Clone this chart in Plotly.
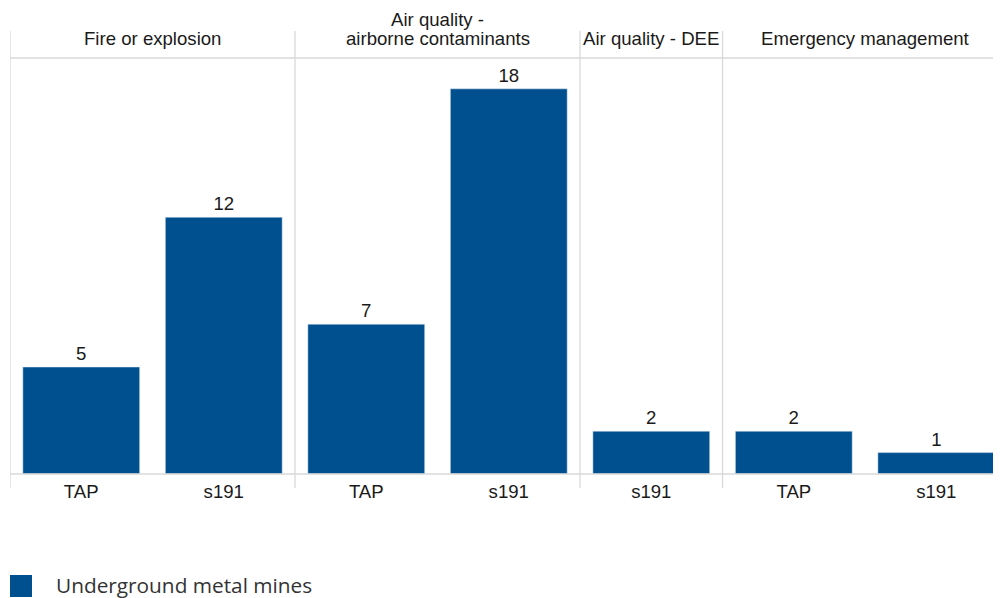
import plotly.graph_objects as go

groups = ["Fire or explosion", "Air quality -<br>airborne contaminants", "Air quality - DEE", "Emergency management"]
group_members = [["TAP", "s191"], ["TAP", "s191"], ["s191"], ["TAP", "s191"]]
values = [5, 12, 7, 18, 2, 2, 1]
series_name = "Underground metal mines"

bar_color = "#00508f"
grid_color = "#d9d9d9"
text_color = "#1a1a1a"
font_main = "Liberation Sans, Arial, sans-serif"
fsize = 18.6

labels = [m for g in group_members for m in g]
xs = list(range(len(labels)))

fig = go.Figure()
fig.add_trace(go.Bar(
    x=xs, y=values, name=series_name, marker_color=bar_color, width=0.82,
    text=[str(v) for v in values], textposition="outside", cliponaxis=False,
    textfont=dict(family=font_main, size=fsize, color=text_color),
    showlegend=False,
))

plot_h = 416.0
plot_w = 991.0
shapes = []
annotations = []
start = 0
bounds = [-0.5]
for g, mem in zip(groups, group_members):
    end = start + len(mem)
    center = (start + end - 1) / 2
    lines = g.split("<br>")
    for i, line in enumerate(reversed(lines)):
        annotations.append(dict(x=center, y=1 + (19.5 + 19 * i) / plot_h, xref="x", yref="paper",
                                text=line, showarrow=False, yanchor="middle",
                                font=dict(family=font_main, size=fsize, color=text_color)))
    bounds.append(end - 0.5)
    start = end
for b in bounds[:-1]:
    shapes.append(dict(type="line", xref="x", yref="paper", x0=b, x1=b, y0=-14 / plot_h, y1=1 + 27 / plot_h,
                       line=dict(color=grid_color, width=1.3)))
shapes.append(dict(type="line", xref="paper", yref="paper", x0=0, x1=1, y0=1, y1=1,
                   line=dict(color=grid_color, width=1.5)))
shapes.append(dict(type="line", xref="paper", yref="paper", x0=0, x1=1, y0=0, y1=0,
                   line=dict(color=grid_color, width=1.5)))
# manual legend
shapes.append(dict(type="rect", xref="paper", yref="paper", x0=0, x1=22 / plot_w,
                   y0=-101 / plot_h, y1=-123 / plot_h,
                   fillcolor=bar_color, line=dict(width=0)))
annotations.append(dict(x=44 / plot_w, y=-111 / plot_h, xref="paper", yref="paper", text=series_name,
                        showarrow=False, xanchor="left", yanchor="middle",
                        font=dict(family="Open Sans, sans-serif", size=20.8, color="#333333")))

fig.update_layout(
    width=993, height=590,
    margin=dict(l=2, r=0, t=50, b=124),
    plot_bgcolor="white", paper_bgcolor="white",
    shapes=shapes, annotations=annotations,
    xaxis=dict(range=[-0.5, 6.454], tickvals=xs, ticktext=labels, showgrid=False,
               zeroline=False, showline=False, ticks="", ticklabelstandoff=4,
               tickfont=dict(family=font_main, size=fsize, color=text_color)),
    yaxis=dict(range=[0, 19.44], visible=False, showgrid=False, zeroline=False),
)

fig.write_html("out.html")
